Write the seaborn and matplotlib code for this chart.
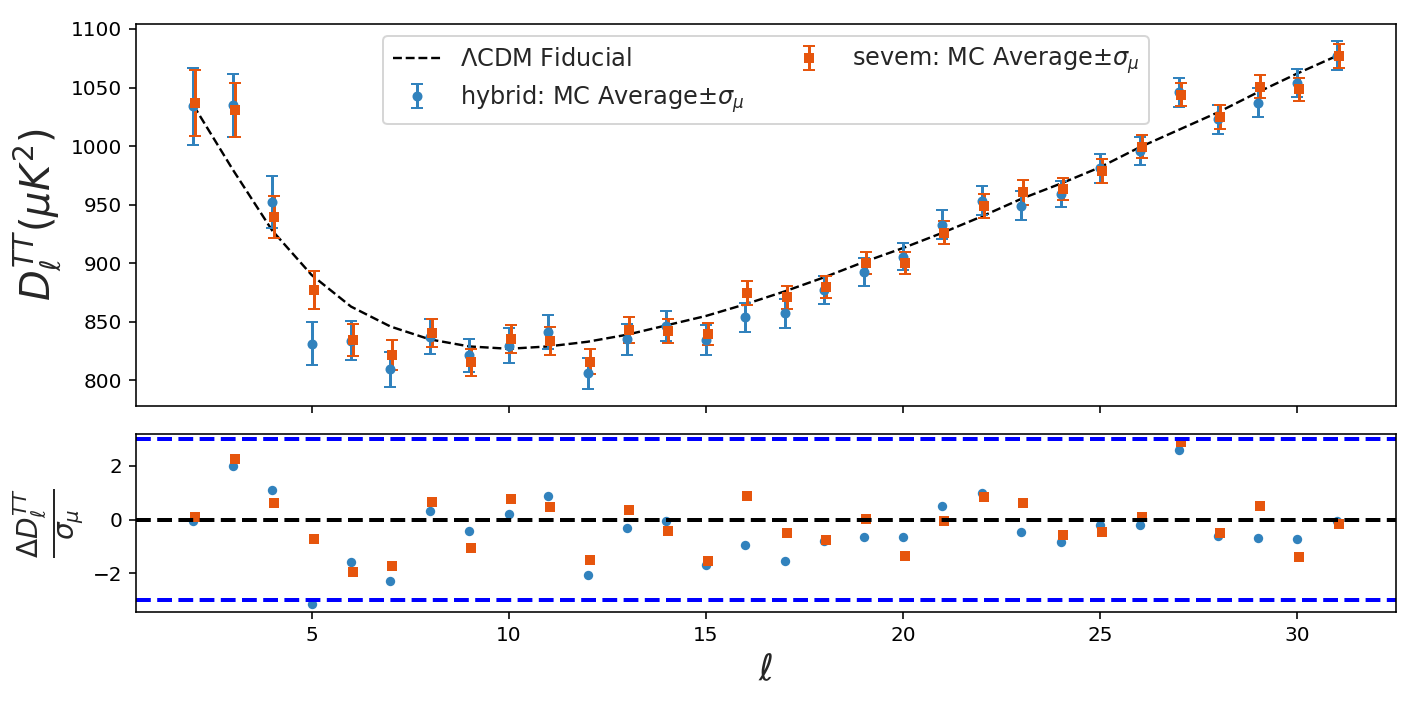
import numpy as np
import seaborn as sns
import matplotlib.pyplot as plt

# multipoles
ell = list(range(2, 32))

# LCDM fiducial D_ell^TT (muK^2)
fiducial = [1035, 980, 928, 890, 863, 846, 835, 829, 827, 829,
            833, 839, 847, 855, 865, 876, 888, 901, 913, 926,
            940, 955, 968, 982, 999, 1014, 1029, 1046, 1062, 1077]

# hybrid: MC average and sigma_mu
hybrid_mean = [1033.9, 1034.8, 952.4, 831.3, 834.0, 809.4, 837.3, 821.6, 829.7, 841.6,
               806.0, 835.0, 846.4, 834.5, 853.8, 857.5, 877.5, 892.6, 905.7, 932.8,
               953.3, 949.0, 959.0, 981.2, 995.7, 1045.9, 1023.0, 1037.0, 1053.6, 1077.3]
hybrid_err = [33.0, 27.0, 22.5, 18.3, 17.0, 15.0, 14.7, 14.0, 14.8, 14.5,
              13.0, 13.5, 13.0, 12.4, 12.2, 12.4, 12.0, 12.0, 11.3, 12.4,
              12.5, 12.5, 11.3, 12.3, 11.7, 12.1, 12.5, 12.4, 12.1, 12.1]

# sevem: MC average and sigma_mu
sevem_mean = [1037.0, 1031.0, 939.6, 877.2, 834.5, 821.6, 840.8, 815.4, 835.3, 833.9,
              816.0, 842.7, 842.2, 839.6, 874.4, 870.9, 879.8, 900.3, 900.3, 925.9,
              949.0, 960.4, 963.2, 978.9, 999.4, 1043.9, 1025.0, 1050.7, 1048.5, 1077.0]
sevem_err = [28.0, 23.0, 18.0, 16.0, 13.5, 12.6, 12.0, 11.4, 12.0, 11.8,
             10.8, 11.0, 10.5, 9.8, 10.4, 10.0, 9.7, 9.6, 9.7, 9.8,
             10.0, 10.4, 9.6, 10.0, 9.8, 10.0, 10.0, 10.0, 9.8, 10.1]

# residuals (mean - fiducial) / sigma_mu
hybrid_res = [-0.04, 2.00, 1.08, -3.13, -1.57, -2.29, 0.30, -0.44, 0.22, 0.87,
              -2.08, -0.31, -0.05, -1.68, -0.93, -1.53, -0.80, -0.64, -0.66, 0.50,
              0.98, -0.45, -0.84, -0.21, -0.21, 2.59, -0.60, -0.70, -0.74, -0.05]
sevem_res = [0.10, 2.24, 0.63, -0.74, -1.94, -1.74, 0.65, -1.05, 0.75, 0.46,
             -1.52, 0.36, -0.44, -1.55, 0.89, -0.52, -0.76, 0.02, -1.37, -0.06,
             0.83, 0.63, -0.56, -0.47, 0.09, 2.88, -0.50, 0.51, -1.38, -0.15]

BLUE = "#3182bd"
ORANGE = "#e6550d"

sns.set_style("ticks", {"axes.edgecolor": "k", "xtick.color": "k", "ytick.color": "k"})
plt.rcParams["font.family"] = ["DejaVu Sans"]

ell_arr = np.array(ell, dtype=float)
shift = 0.05

fig = plt.figure(figsize=(1417 / 144, 708 / 144), dpi=144)
ax1 = fig.add_axes([0.0960, 0.4266, 0.8892, 0.5395])
ax2 = fig.add_axes([0.0960, 0.1356, 0.8892, 0.2514], sharex=ax1)

# top panel
sns.lineplot(x=ell, y=fiducial, ax=ax1, color="k", linestyle="--", linewidth=1.2,
             label=r"$\Lambda$CDM Fiducial")
ax1.errorbar(ell_arr, hybrid_mean, yerr=hybrid_err, fmt="o", color=BLUE, ms=4,
             capsize=3, label=r"hybrid: MC Average$\pm\sigma_\mu$")
ax1.errorbar(ell_arr + shift, sevem_mean, yerr=sevem_err, fmt="s", color=ORANGE, ms=4,
             capsize=3, label=r"sevem: MC Average$\pm\sigma_\mu$")
ax1.set_ylabel(r"$D_\ell^{TT}(\mu K^2)$", fontsize=20)
ax1.legend(loc="upper center", ncol=2, fontsize=12, frameon=True, columnspacing=1.7)
ax1.tick_params(labelbottom=False)
ax1.set_yticks([800, 850, 900, 950, 1000, 1050, 1100])

# bottom panel
ax2.axhline(3, color="blue", linestyle="--", linewidth=2)
ax2.axhline(-3, color="blue", linestyle="--", linewidth=2)
ax2.axhline(0, color="k", linestyle="--", linewidth=2)
sns.scatterplot(x=ell_arr, y=hybrid_res, ax=ax2, color=BLUE, marker="o", s=22, linewidth=0)
sns.scatterplot(x=ell_arr + shift, y=sevem_res, ax=ax2, color=ORANGE, marker="s", s=22, linewidth=0)
ax2.set_ylim(-3.44, 3.18)
ax2.set_yticks([-2, 0, 2])
ax2.set_xticks([5, 10, 15, 20, 25, 30])
ax2.set_xlabel(r"$\ell$", fontsize=18)
ax2.set_ylabel(r"$\frac{\Delta D_\ell^{TT}}{\sigma_\mu}$", fontsize=20)

fig.savefig("out.png", dpi=144)
